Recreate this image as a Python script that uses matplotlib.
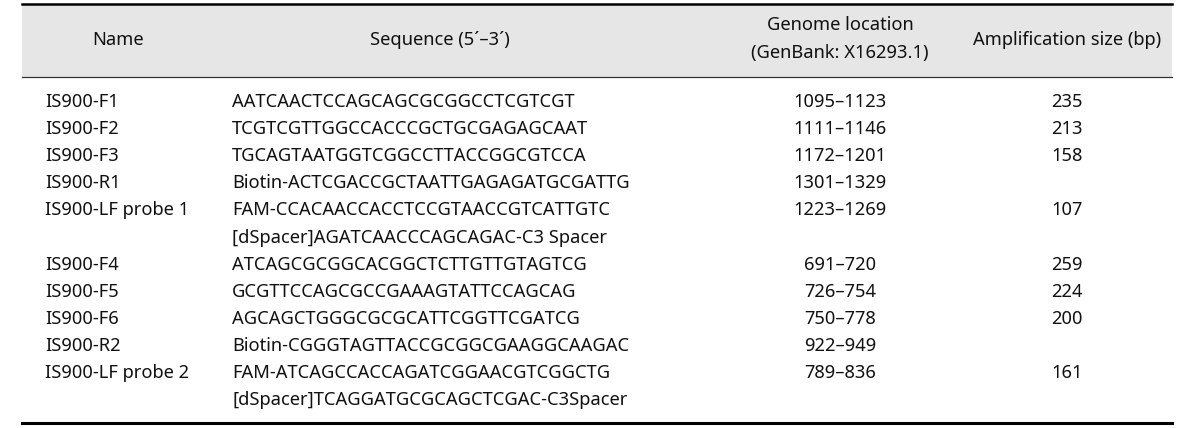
import matplotlib
matplotlib.use("Agg")
import matplotlib.pyplot as plt

names = ["IS900-F1", "IS900-F2", "IS900-F3", "IS900-R1", "IS900-LF probe 1",
         "IS900-F4", "IS900-F5", "IS900-F6", "IS900-R2", "IS900-LF probe 2"]
sequences = [
    ["AATCAACTCCAGCAGCGCGGCCTCGTCGT"],
    ["TCGTCGTTGGCCACCCGCTGCGAGAGCAAT"],
    ["TGCAGTAATGGTCGGCCTTACCGGCGTCCA"],
    ["Biotin-ACTCGACCGCTAATTGAGAGATGCGATTG"],
    ["FAM-CCACAACCACCTCCGTAACCGTCATTGTC", "[dSpacer]AGATCAACCCAGCAGAC-C3 Spacer"],
    ["ATCAGCGCGGCACGGCTCTTGTTGTAGTCG"],
    ["GCGTTCCAGCGCCGAAAGTATTCCAGCAG"],
    ["AGCAGCTGGGCGCGCATTCGGTTCGATCG"],
    ["Biotin-CGGGTAGTTACCGCGGCGAAGGCAAGAC"],
    ["FAM-ATCAGCCACCAGATCGGAACGTCGGCTG", "[dSpacer]TCAGGATGCGCAGCTCGAC-C3Spacer"],
]
locations = ["1095\u20131123", "1111\u20131146", "1172\u20131201", "1301\u20131329",
             "1223\u20131269", "691\u2013720", "726\u2013754", "750\u2013778",
             "922\u2013949", "789\u2013836"]
sizes = ["235", "213", "158", "", "107", "259", "224", "200", "", "161"]

plt.rcParams['font.family'] = ['Noto Sans', 'DejaVu Sans']
fs = 13.2
color = "#111111"

fig = plt.figure(figsize=(12, 4.28), dpi=100)
ax = fig.add_axes([0, 0, 1, 1])
ax.set_xlim(0, 1200)
ax.set_ylim(428, 0)
ax.axis("off")

left, right = 22, 1172
top, head_bot, bottom = 4, 77, 423

# header band and rules
ax.fill_between([left, right], top, head_bot, color="#e6e6e6", lw=0, zorder=0)
ax.plot([left, right], [top, top], color="black", lw=1.8)
ax.plot([left, right], [head_bot, head_bot], color="#333333", lw=0.9)
ax.plot([left, right], [bottom, bottom], color="black", lw=2.2)

hy = 40
ax.text(118, hy, "Name", ha="center", va="center", fontsize=fs, color=color)
ax.text(440, hy, "Sequence (5\u00b4\u20133\u00b4)", ha="center", va="center", fontsize=fs, color=color)
ax.text(840, 25, "Genome location", ha="center", va="center", fontsize=fs, color=color)
ax.text(840, 53, "(GenBank: X16293.1)", ha="center", va="center", fontsize=fs, color=color)
ax.text(1067, hy, "Amplification size (bp)", ha="center", va="center", fontsize=fs, color=color)

# body rows
y0, step = 102, 27.1
line = 0
for name, seq, loc, size in zip(names, sequences, locations, sizes):
    y = y0 + line * step
    ax.text(45, y, name, ha="left", va="center", fontsize=fs, color=color)
    for k, s in enumerate(seq):
        ax.text(232, y + k * step, s, ha="left", va="center", fontsize=fs, color=color)
    ax.text(840, y, loc, ha="center", va="center", fontsize=fs, color=color)
    ax.text(1067, y, size, ha="center", va="center", fontsize=fs, color=color)
    line += len(seq)

fig.savefig("out.png", dpi=100)
